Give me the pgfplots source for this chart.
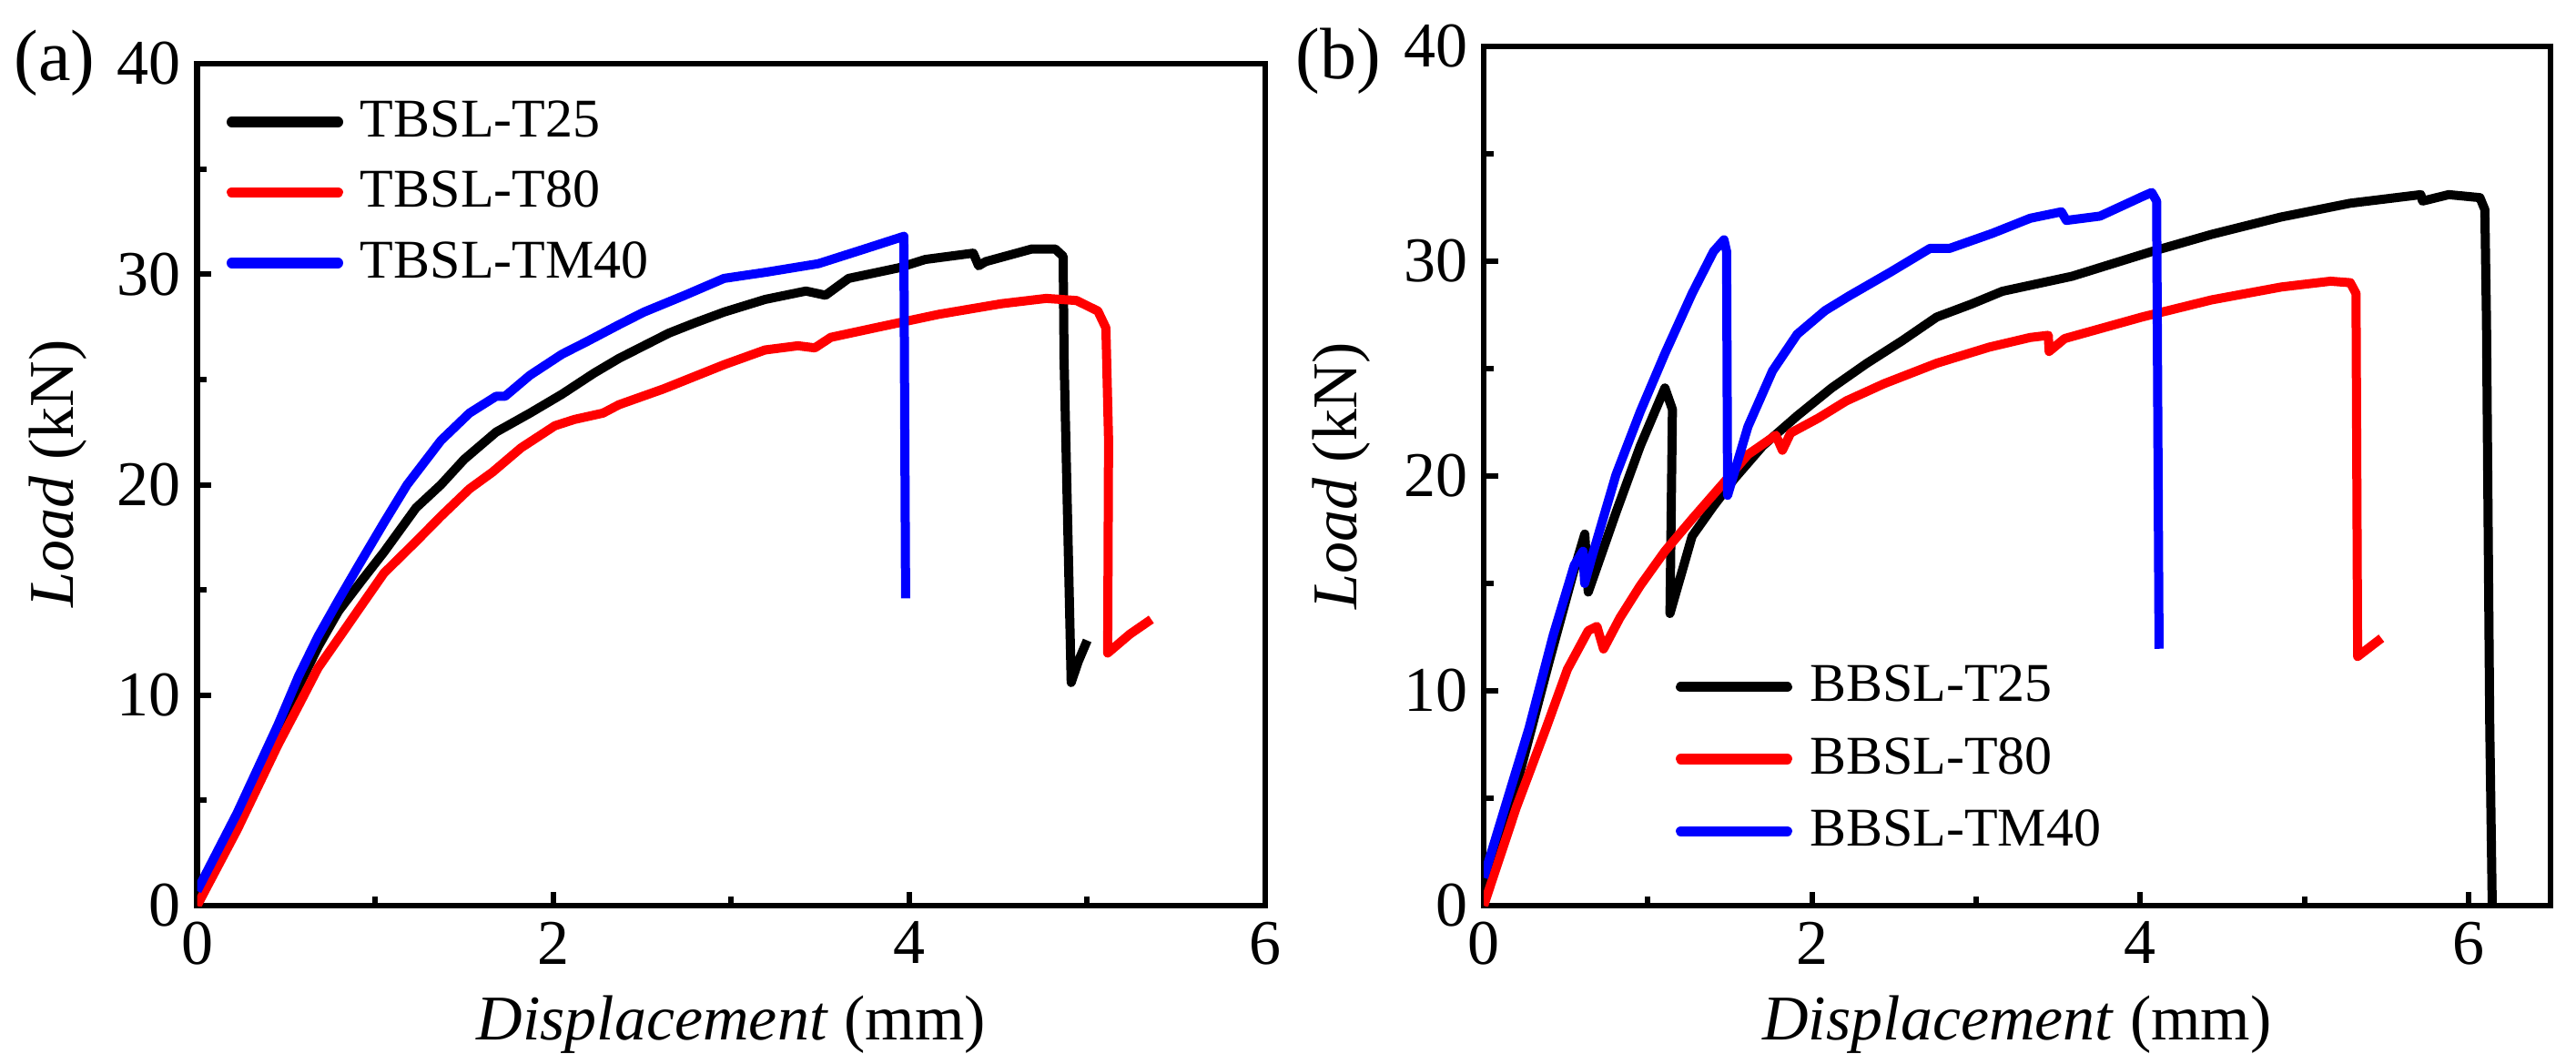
\documentclass[border=0pt]{standalone}
\usepackage{fontspec}
\setmainfont{Liberation Serif}
\usepackage{pgfplots}
\pgfplotsset{compat=1.18}

\pgfplotsset{
  mystyle/.style={
    scale only axis,
    xmin=0, ymin=0, ymax=40,
    axis line style={line width=1.34pt},
    every tick/.style={line width=1.2pt, black},
    tick align=inside,
    xtick pos=bottom, ytick pos=left,
    xtick={0,2,4,6}, ytick={0,10,20,30,40},
    minor xtick={1,3,5}, minor ytick={5,15,25,35},
    major tick length=3.1pt, minor tick length=2.1pt,
    /pgf/number format/assume math mode=true,
    tick label style={font=\fontsize{14}{16}\selectfont},
    label style={font=\fontsize{14}{16}\selectfont},
    xlabel={\textit{Displacement} (mm)},
    ylabel={\textit{Load} (kN)},
    legend style={draw=none, fill=none, font=\fontsize{12}{14}\selectfont,
      anchor=north west, inner sep=0pt, row sep=6pt, column sep=3.8pt,
      nodes={inner sep=0pt}},
    legend cell align=left,
    legend image code/.code={\draw[#1, line width=2.3pt, line cap=round] (1.15pt,0pt) -- (24.45pt,0pt);},
    every axis plot/.append style={line width=2pt, line join=round},
  }
}

\begin{document}
\begin{tikzpicture}[x=1pt,y=1pt]
\useasboundingbox (0,0) rectangle (566,233.6);

\begin{axis}[mystyle,
  at={(43.3pt,34.6pt)}, anchor=south west,
  width=234.7pt, height=185pt,
  xmax=6,
  ylabel style={at={(axis description cs:-0.13,0.513)}, anchor=center},
  legend style={at={(rel axis cs:0,1)}, xshift=6.3pt, yshift=-7.9pt},
]
\addplot[black] coordinates {
(0,0) (0.225,4.0) (0.455,8.4) (0.57,10.4) (0.68,12.3) (0.795,14.0) (0.93,15.5) (1.05,16.8)
(1.23,18.9) (1.37,20.0) (1.50,21.2) (1.68,22.5) (1.87,23.4) (2.05,24.3)
(2.23,25.3) (2.37,26.0) (2.51,26.6) (2.65,27.2) (2.80,27.7) (2.96,28.2)
(3.19,28.8) (3.42,29.2) (3.53,29.0) (3.66,29.8) (3.94,30.3) (4.09,30.7)
(4.36,31.0) (4.39,30.4) (4.43,30.6) (4.69,31.2) (4.82,31.2) (4.865,30.85)
(4.87,26.0) (4.91,10.6) (4.95,11.6) (5.0,12.6)
};
\addlegendentry{TBSL-T25}
\addplot[red] coordinates {
(0,0) (0.225,3.6) (0.455,7.65) (0.57,9.5) (0.68,11.3) (0.82,13.0) (0.91,14.1) (1.05,15.8)
(1.23,17.3) (1.37,18.5) (1.53,19.8) (1.66,20.6) (1.82,21.75) (2.01,22.8)
(2.12,23.1) (2.28,23.4) (2.37,23.8) (2.62,24.55) (2.96,25.7) (3.19,26.4)
(3.375,26.6) (3.47,26.5) (3.56,27.0) (3.835,27.5) (4.17,28.1) (4.52,28.6)
(4.77,28.85) (4.94,28.75) (5.06,28.25) (5.105,27.45) (5.12,22.1) (5.115,12.0)
(5.24,12.9) (5.36,13.6)
};
\addlegendentry{TBSL-T80}
\addplot[blue] coordinates {
(0,0.7) (0.225,4.4) (0.455,8.6) (0.57,10.9) (0.68,12.8) (0.80,14.6) (0.91,16.2) (1.05,18.2) (1.18,20.0)
(1.37,22.1) (1.53,23.4) (1.68,24.2) (1.73,24.2) (1.87,25.2) (2.05,26.2)
(2.19,26.8) (2.37,27.6) (2.51,28.2) (2.74,29.0) (2.96,29.8) (3.2,30.1)
(3.49,30.5) (3.75,31.2) (3.97,31.8) (3.98,14.6)
};
\addlegendentry{TBSL-TM40}
\end{axis}

\begin{axis}[mystyle,
  at={(326pt,34.6pt)}, anchor=south west,
  width=234.4pt, height=188.8pt,
  xmax=6.5,
  ylabel style={at={(axis description cs:-0.133,0.5)}, anchor=center},
  legend style={at={(rel axis cs:0,0)}, anchor=south west, xshift=42pt, yshift=11.4pt, row sep=6.4pt},
]
\addplot[black] coordinates {
(0,0.5) (0.2,5.6) (0.4,11.4) (0.55,15.6) (0.616,17.3) (0.637,14.6) (0.806,18.3)
(0.954,21.4) (1.104,24.1) (1.15,23.1) (1.135,13.6) (1.27,17.2) (1.40,18.6)
(1.53,19.9) (1.70,21.4) (1.91,22.8) (2.12,24.1) (2.335,25.25) (2.55,26.3)
(2.76,27.4) (2.97,28.0) (3.16,28.6) (3.585,29.3) (4.07,30.45) (4.435,31.25)
(4.86,32.06) (5.28,32.7) (5.71,33.1) (5.72,32.8) (5.88,33.1) (6.07,32.96)
(6.10,32.4) (6.11,27.2) (6.13,8.3) (6.145,0)
};
\addlegendentry{BBSL-T25}
\addplot[red] coordinates {
(0,0) (0.2,4.6) (0.38,8.26) (0.51,11.0) (0.637,12.8) (0.69,13.0) (0.73,11.95)
(0.83,13.4) (0.954,14.9) (1.104,16.5) (1.27,18.0) (1.464,19.7) (1.61,21.0)
(1.78,21.9) (1.82,21.2) (1.87,22.0) (2.04,22.7) (2.21,23.5) (2.44,24.3)
(2.76,25.25) (3.08,26.0) (3.33,26.45) (3.44,26.55) (3.445,25.8) (3.54,26.4)
(4.01,27.4) (4.435,28.2) (4.86,28.8) (5.16,29.07) (5.28,29.0) (5.315,28.5)
(5.325,11.6) (5.47,12.45)
};
\addlegendentry{BBSL-T80}
\addplot[blue] coordinates {
(0,1.3) (0.276,8.26) (0.424,12.6) (0.552,15.85) (0.605,16.5) (0.615,15.0)
(0.658,16.2) (0.806,20.06) (0.954,23.0) (1.104,25.7) (1.27,28.5) (1.40,30.45)
(1.464,31.0) (1.48,30.45) (1.486,19.1) (1.61,22.3) (1.76,24.9) (1.91,26.6)
(2.08,27.7) (2.23,28.4) (2.48,29.5) (2.72,30.6) (2.84,30.6) (3.10,31.3)
(3.33,32.0) (3.52,32.3) (3.55,31.9) (3.755,32.1) (4.01,33.0) (4.07,33.2)
(4.10,32.8) (4.115,11.96)
};
\addlegendentry{BBSL-TM40}
\end{axis}

\node[font=\fontsize{16}{18}\selectfont] at (12,219.8) {(a)};
\node[font=\fontsize{16}{18}\selectfont] at (294,220.2) {(b)};
\end{tikzpicture}
\end{document}
